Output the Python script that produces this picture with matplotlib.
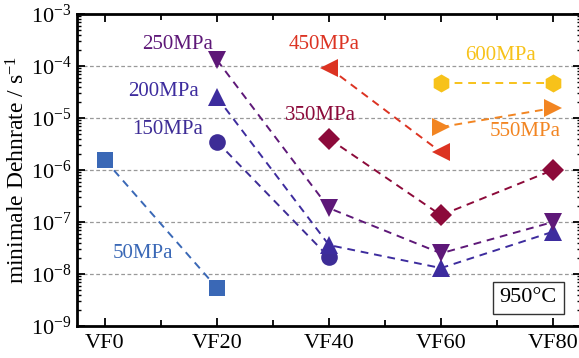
import numpy as np
import matplotlib
matplotlib.use("Agg")
import matplotlib.pyplot as plt
from matplotlib.ticker import FixedLocator, LogLocator, NullFormatter

plt.rcParams['font.family'] = 'Liberation Serif'
plt.rcParams['mathtext.fontset'] = 'custom'
plt.rcParams['mathtext.rm'] = 'Liberation Serif'
plt.rcParams['mathtext.it'] = 'Liberation Serif:italic'

# --- data ---
categories = ["VF0", "VF20", "VF40", "VF60", "VF80"]

x_50 = [0, 1]
y_50 = [1.55e-6, 5.4e-9]
x_150 = [1, 2]
y_150 = [3.5e-6, 2.1e-8]
x_200 = [1, 2, 3, 4]
y_200 = [2.5e-5, 3.6e-8, 1.3e-8, 6.5e-8]
x_250 = [1, 2, 3, 4]
y_250 = [1.3e-4, 1.85e-7, 2.5e-8, 1.0e-7]
x_350 = [2, 3, 4]
y_350 = [4.0e-6, 1.35e-7, 1.0e-6]
x_450 = [2, 3]
y_450 = [9.2e-5, 2.2e-6]
x_550 = [3, 4]
y_550 = [6.7e-6, 1.55e-5]
x_600 = [3, 4]
y_600 = [4.7e-5, 4.7e-5]

series = [
    # x, y, marker, size, colour, label, label position
    (x_50, y_50, "s", 11, "#3a68b6", "50MPa", (0.34, 2.5e-8)),
    (x_150, y_150, "o", 12, "#3d2c96", "150MPa", (0.56, 5.9e-6)),
    (x_200, y_200, "^", 13, "#3d2c9e", "200MPa", (0.52, 3.3e-5)),
    (x_250, y_250, "v", 13, "#5e1878", "250MPa", (0.65, 2.6e-4)),
    (x_350, y_350, "D", 11, "#8c0a3a", "350MPa", (1.92, 1.1e-5)),
    (x_450, y_450, "<", 13, "#dc3322", "450MPa", (1.96, 2.6e-4)),
    (x_550, y_550, ">", 13, "#f28522", "550MPa", (3.75, 5.4e-6)),
    (x_600, y_600, "h", 13, "#f7c21a", "600MPa", (3.53, 1.6e-4)),
]

fig = plt.figure(figsize=(5.79, 3.58), dpi=100)
ax = fig.add_axes([77 / 579, 32 / 358, 504 / 579, 312 / 358])

for xs, ys, mk, ms, col, lab, pos in series:
    ax.plot(xs, ys, linestyle=(0, (4, 3)), color=col, lw=1.4,
            marker=mk, markersize=ms, markeredgewidth=0, zorder=3)
    ax.text(pos[0], pos[1], lab, color=col, fontsize=15, ha="center", va="center")

ax.set_yscale("log")
ax.set_ylim(1e-9, 1e-3)
ax.set_xlim(-0.25, 4.25)
ax.set_xticks(range(len(categories)))
ax.set_xticklabels(categories)
ax.set_xticks(np.arange(0.5, 4, 1), minor=True)
ax.yaxis.set_major_locator(FixedLocator([1e-9, 1e-8, 1e-7, 1e-6, 1e-5, 1e-4, 1e-3]))
ax.yaxis.set_minor_locator(LogLocator(base=10, subs=np.arange(2, 10), numticks=20))
ax.yaxis.set_minor_formatter(NullFormatter())

for y in [1e-4, 1e-5, 1e-6, 1e-7, 1e-8]:
    ax.axhline(y, color="#999999", ls=(0, (3, 2)), lw=0.9, zorder=1)

ax.tick_params(which="both", direction="in", top=True, right=True, labelsize=16)
ax.tick_params(which="major", length=6, width=1.3)
ax.tick_params(which="minor", length=3, width=1.0)
ax.tick_params(axis="x", which="minor", length=4, width=1.3)
ax.tick_params(axis="x", pad=6)
ax.tick_params(axis="y", pad=4)
for s in ax.spines.values():
    s.set_linewidth(2)

ax.set_ylabel("minimale Dehnrate / s$^{-1}$", fontsize=17, labelpad=1)

ax.text(3.78, 3.5e-9, "950°C", fontsize=16, ha="center", va="center",
        bbox=dict(boxstyle="square,pad=0.3", fc="white", ec="#333333", lw=1))

fig.savefig("out.png", dpi=100)
